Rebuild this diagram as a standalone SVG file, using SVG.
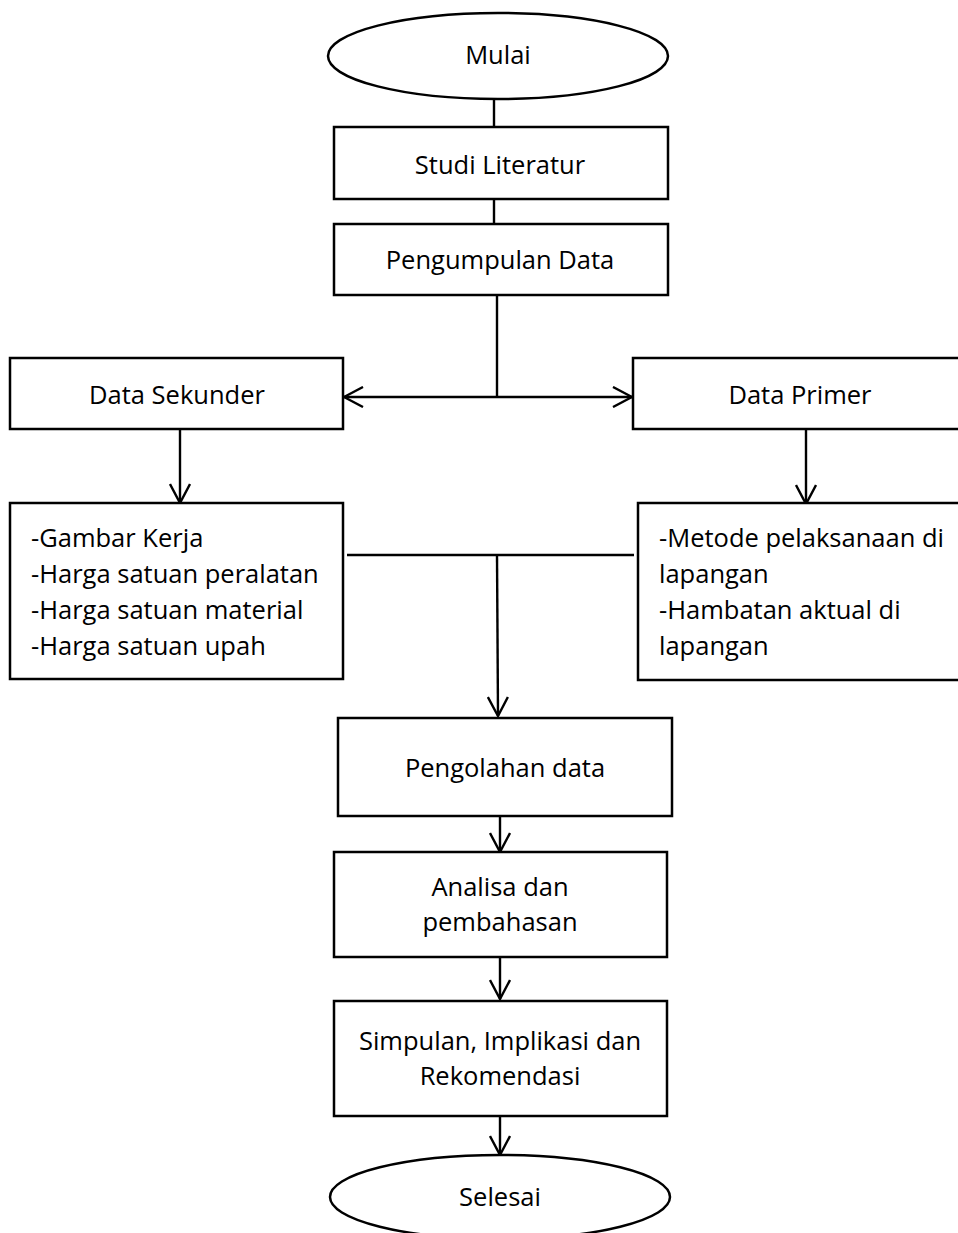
<svg xmlns="http://www.w3.org/2000/svg" width="958" height="1233" viewBox="0 0 958 1233">
<style>
.s{fill:#fff;stroke:#000;stroke-width:2.5}
.t{font-family:"Open Sans","Liberation Sans",sans-serif;font-size:25.5px;fill:#000}
.c{text-anchor:middle}
.l{fill:none;stroke:#000;stroke-width:2.4}
</style>
<defs>
<marker id="ah" viewBox="0 0 22 22" refX="21" refY="11" markerWidth="22" markerHeight="22" markerUnits="userSpaceOnUse" orient="auto-start-reverse">
<path d="M2,1 L21,11 L2,21" fill="none" stroke="#000" stroke-width="2.4"/>
</marker>
</defs>
<rect width="958" height="1233" fill="#fff"/>
<g id="connectors">
<line class="l" x1="494" y1="99" x2="494" y2="127"/>
<line class="l" x1="494" y1="199" x2="494" y2="226"/>
<line class="l" x1="497" y1="295" x2="497" y2="397"/>
<line class="l" x1="344" y1="397" x2="632" y2="397" marker-start="url(#ah)" marker-end="url(#ah)"/>
<line class="l" x1="180" y1="429" x2="180" y2="503" marker-end="url(#ah)"/>
<line class="l" x1="806" y1="429" x2="806" y2="504" marker-end="url(#ah)"/>
<line class="l" x1="347" y1="555" x2="634" y2="555"/>
<line class="l" x1="497" y1="555" x2="498" y2="716" marker-end="url(#ah)"/>
<line class="l" x1="500" y1="816" x2="500" y2="852" marker-end="url(#ah)"/>
<line class="l" x1="500" y1="957" x2="500" y2="999" marker-end="url(#ah)"/>
<line class="l" x1="500" y1="1116" x2="500" y2="1155" marker-end="url(#ah)"/>
</g>
<g id="mulai">
<ellipse class="s" cx="498" cy="56" rx="170" ry="43"/>
<text class="t c" x="498" y="64">Mulai</text>
</g>
<g id="studi-literatur">
<rect class="s" x="334" y="127" width="334" height="72"/>
<text class="t c" x="500" y="174">Studi Literatur</text>
</g>
<g id="pengumpulan-data">
<rect class="s" x="334" y="224" width="334" height="71"/>
<text class="t c" x="500" y="269">Pengumpulan Data</text>
</g>
<g id="data-sekunder">
<rect class="s" x="10" y="358" width="333" height="71"/>
<text class="t c" x="177" y="404">Data Sekunder</text>
</g>
<g id="data-primer">
<rect class="s" x="633" y="358" width="330" height="71"/>
<text class="t c" x="800" y="404">Data Primer</text>
</g>
<g id="sekunder-list">
<rect class="s" x="10" y="503" width="333" height="176"/>
<text class="t" x="31" y="547">-Gambar Kerja</text>
<text class="t" x="31" y="583">-Harga satuan peralatan</text>
<text class="t" x="31" y="619">-Harga satuan material</text>
<text class="t" x="31" y="655">-Harga satuan upah</text>
</g>
<g id="primer-list">
<rect class="s" x="638" y="503" width="330" height="177"/>
<text class="t" x="659" y="547">-Metode pelaksanaan di</text>
<text class="t" x="659" y="583">lapangan</text>
<text class="t" x="659" y="619">-Hambatan aktual di</text>
<text class="t" x="659" y="655">lapangan</text>
</g>
<g id="pengolahan-data">
<rect class="s" x="338" y="718" width="334" height="98"/>
<text class="t c" x="505" y="777">Pengolahan data</text>
</g>
<g id="analisa">
<rect class="s" x="334" y="852" width="333" height="105"/>
<text class="t c" x="500" y="896">Analisa dan</text>
<text class="t c" x="500" y="931">pembahasan</text>
</g>
<g id="simpulan">
<rect class="s" x="334" y="1001" width="333" height="115"/>
<text class="t c" x="500" y="1050">Simpulan, Implikasi dan</text>
<text class="t c" x="500" y="1085">Rekomendasi</text>
</g>
<g id="selesai">
<ellipse class="s" cx="500" cy="1197" rx="170" ry="42"/>
<text class="t c" x="500" y="1206">Selesai</text>
</g>
</svg>
